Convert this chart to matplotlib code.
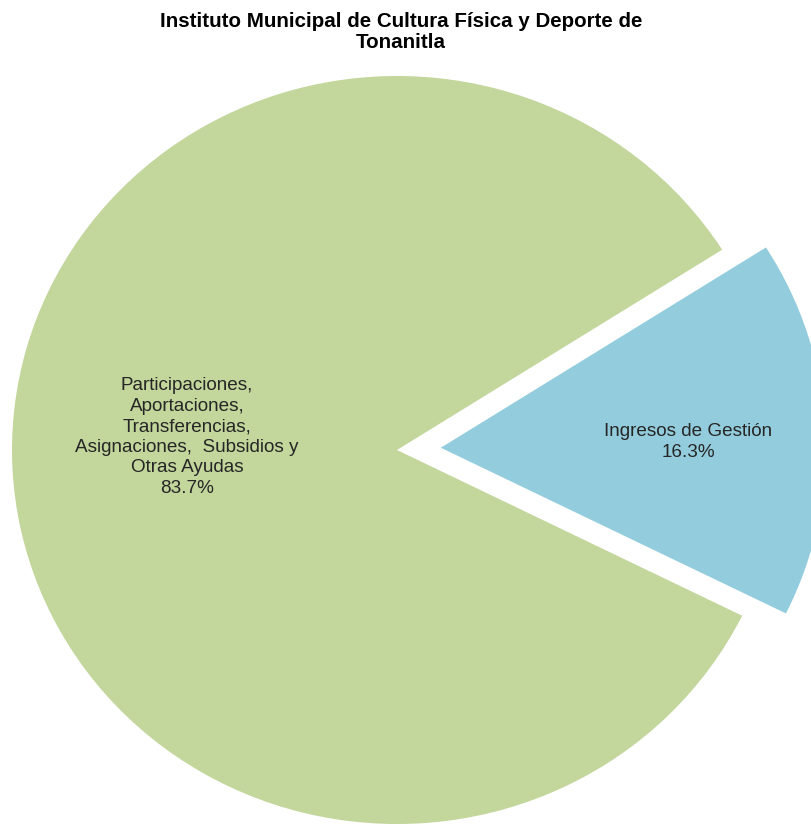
import matplotlib.pyplot as plt

# Datos
categorias = ["Ingresos de Gestión",
              "Participaciones,\nAportaciones,\nTransferencias,\nAsignaciones,  Subsidios y\nOtras Ayudas"]
porcentajes = [16.3, 83.7]
colores = ["#93CDDD", "#C3D69B"]
separacion = [0.114, 0.0]

titulo = "Instituto Municipal de Cultura Física y Deporte de\nTonanitla"

plt.rcParams['font.family'] = ['Liberation Sans', 'DejaVu Sans']

fig = plt.figure(figsize=(8.12, 8.29), dpi=100)
ax = fig.add_axes([0, 0, 1, 1])

wedges, _ = ax.pie(porcentajes, colors=colores, explode=separacion,
                   startangle=-26.3, counterclock=True,
                   wedgeprops=dict(linewidth=0))

# Ajuste a la escala de la imagen original (ligeramente elíptico)
cx, cy = 397, 451
rx, ry = 385, 374
ax.set_aspect('auto')
ax.set_xlim(-cx / rx, (812 - cx) / rx)
ax.set_ylim(-(829 - cy) / ry, cy / ry)
ax.axis('off')

# Etiquetas
def px(x, y):
    return (x - cx) / rx, (cy - y) / ry

ax.text(*px(187, 437), f"{categorias[1]}\n{porcentajes[1]}%", ha='center', va='center',
        fontsize=13.6, color='#262626', linespacing=1.28)
ax.text(*px(688, 442), f"{categorias[0]}\n{porcentajes[0]}%", ha='center', va='center',
        fontsize=13.6, color='#262626', linespacing=1.25)

fig.text(401 / 812, 1 - 32 / 829, titulo, ha='center', va='center',
         fontsize=14.8, fontweight='bold', color='black', linespacing=1.12)

fig.savefig('out.png', dpi=100)
